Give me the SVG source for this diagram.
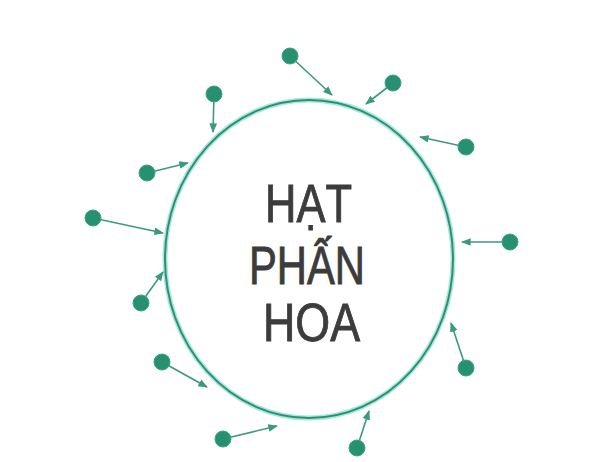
<svg xmlns="http://www.w3.org/2000/svg" width="599" height="462" viewBox="0 0 599 462">
<defs>
<style>
.glow{fill:none;stroke:#a6e8da;stroke-width:5}
.cell{fill:none;stroke:#2f8f76;stroke-width:2}
.dot{fill:#279071;stroke:#3aa587;stroke-width:1}
.arr{stroke:#3a9a80;stroke-width:1.6;fill:none;marker-end:url(#ah)}
.lbl{font-family:"Liberation Sans",Arial,sans-serif;font-size:53px;fill:#3c3c3c;stroke:#3c3c3c;stroke-width:0.9}
</style>
<marker id="ah" viewBox="0 0 10 10" refX="9" refY="5" markerWidth="6" markerHeight="6" orient="auto" markerUnits="strokeWidth">
<path d="M0,1 L10,5 L0,9 Z" fill="#3a9a80"/>
</marker>
</defs>
<rect width="599" height="462" fill="#ffffff"/>
<g id="pollen">
<ellipse class="glow" cx="309" cy="259" rx="144" ry="159"/>
<ellipse class="cell" cx="309" cy="259" rx="144" ry="159"/>
<text class="lbl" x="265" y="222" textLength="87" lengthAdjust="spacingAndGlyphs">HẠT</text>
<text class="lbl" x="249" y="284" textLength="116" lengthAdjust="spacingAndGlyphs">PHẤN</text>
<text class="lbl" x="263" y="341" textLength="97" lengthAdjust="spacingAndGlyphs">HOA</text>
</g>
<g id="connectors">
<line class="arr" x1="290" y1="56" x2="332" y2="95"/>
<line class="arr" x1="393" y1="83" x2="366" y2="104"/>
<line class="arr" x1="214" y1="94" x2="213" y2="132"/>
<line class="arr" x1="147" y1="173" x2="188" y2="163"/>
<line class="arr" x1="93" y1="218" x2="163" y2="233"/>
<line class="arr" x1="141" y1="303" x2="163" y2="272"/>
<line class="arr" x1="466" y1="147" x2="420" y2="137"/>
<line class="arr" x1="510" y1="242" x2="462" y2="242"/>
<line class="arr" x1="466" y1="368" x2="451" y2="323"/>
<line class="arr" x1="162" y1="362" x2="207" y2="387"/>
<line class="arr" x1="223" y1="439" x2="277" y2="426"/>
<line class="arr" x1="357" y1="448" x2="369" y2="411"/>
</g>
<g id="grain1"><circle class="dot" cx="290" cy="56" r="8"/></g>
<g id="grain2"><circle class="dot" cx="393" cy="83" r="8"/></g>
<g id="grain3"><circle class="dot" cx="214" cy="94" r="8"/></g>
<g id="grain4"><circle class="dot" cx="147" cy="173" r="8"/></g>
<g id="grain5"><circle class="dot" cx="93" cy="218" r="8"/></g>
<g id="grain6"><circle class="dot" cx="141" cy="303" r="8"/></g>
<g id="grain7"><circle class="dot" cx="466" cy="147" r="8"/></g>
<g id="grain8"><circle class="dot" cx="510" cy="242" r="8"/></g>
<g id="grain9"><circle class="dot" cx="466" cy="368" r="8"/></g>
<g id="grain10"><circle class="dot" cx="162" cy="362" r="8"/></g>
<g id="grain11"><circle class="dot" cx="223" cy="439" r="8"/></g>
<g id="grain12"><circle class="dot" cx="357" cy="448" r="8"/></g>
</svg>
